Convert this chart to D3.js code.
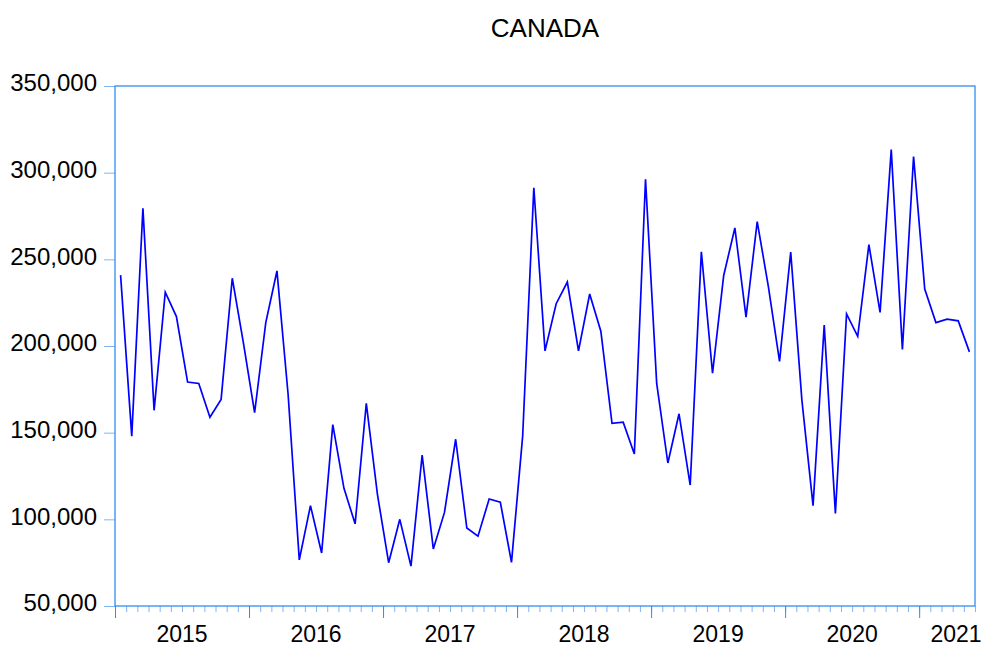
<!DOCTYPE html>
<html lang="en">
<head>
    <meta charset="UTF-8">
    <title>CANADA</title>
    <script src="https://cdn.jsdelivr.net/npm/d3@7/dist/d3.min.js"></script>
    <style>
        body { margin: 0; background: #fff; }
        text { font-family: "Liberation Sans", Arial, sans-serif; fill: #000; }
    </style>
</head>
<body>
    <svg width="988" height="646"></svg>

    <script>
        // monthly values, Jan 2015 .. May 2021
        var values = [
            240900, 148000, 279400, 162900, 231000, 217000, 179200, 178400, 158900, 169200, 239100, 201600,
            161500, 213500, 243300, 172000, 76600, 107900, 80600, 154600, 117900, 97400, 166900, 114300,
            75000, 100000, 73000, 137100, 82900, 104000, 146200, 95000, 90300, 111700, 109900, 75200,
            148000, 291300, 197200, 224400, 236900, 197200, 230000, 208500, 155400, 156000, 137700, 296200,
            178400, 132500, 160900, 119800, 254400, 184300, 240700, 268100, 216700, 271800, 234300, 191100,
            254200, 168800, 107900, 212100, 103400, 218500, 205600, 258500, 219400, 313300, 198000, 309300,
            232900, 213500, 215500, 214500, 196600
        ]
        var years = [2015, 2016, 2017, 2018, 2019, 2020, 2021]
        var yTicks = [50000, 100000, 150000, 200000, 250000, 300000, 350000]

        var svg = d3.select('svg')
        var width = +svg.attr('width')
        // plot box (don't call these top/left: window.top is read-only)
        var plotL = 115, plotR = 975, plotT = 86, plotB = 606
        var axisColor = '#2f8ef0'
        var tickColor = '#7fb6f3'

        // one slot per month, points sit in the middle of the slot
        var x = d3.scaleLinear().domain([0, values.length]).range([plotL, plotR])
        var y = d3.scaleLinear().domain([50000, 350000]).range([plotB, plotT])

        // title
        svg.append('text')
            .attr('x', (plotL + plotR) / 2)
            .attr('y', 37)
            .attr('text-anchor', 'middle')
            .style('font-size', '26px')
            .text('CANADA')

        // y axis
        var gy = svg.append('g')
            .attr('transform', 'translate(' + plotL + ',0)')
            .call(d3.axisLeft(y).tickValues(yTicks).tickSize(11).tickPadding(7).tickFormat(d3.format(',')))
        gy.select('.domain').remove()
        gy.selectAll('.tick line').attr('stroke', tickColor)
        gy.selectAll('.tick text')
            .style('font-size', '24px')
            .attr('dy', '0.2em')
            .attr('fill', '#000')

        // x axis: month ticks and longer year ticks
        var gxMinor = svg.append('g')
            .attr('transform', 'translate(0,' + plotB + ')')
            .call(d3.axisBottom(x).tickValues(d3.range(0, values.length + 1)).tickSize(6).tickFormat(''))
        gxMinor.select('.domain').remove()
        gxMinor.selectAll('.tick line').attr('stroke', tickColor)

        var gxMajor = svg.append('g')
            .attr('transform', 'translate(0,' + plotB + ')')
            .call(d3.axisBottom(x).tickValues(years.map(function(d, i) { return i * 12 })).tickSize(12).tickFormat(''))
        gxMajor.select('.domain').remove()
        gxMajor.selectAll('.tick line').attr('stroke', axisColor)

        // year labels, centred on the year, last one kept inside the page
        svg.append('g').selectAll('text').data(years).enter().append('text')
            .attr('x', function(d, i) {
                var c = x(i * 12 + 6)
                return Math.min(c, width - 6 - 26)
            })
            .attr('y', 642)
            .attr('text-anchor', 'middle')
            .style('font-size', '23px')
            .text(function(d) { return d })

        // frame
        svg.append('rect')
            .attr('x', plotL)
            .attr('y', plotT)
            .attr('width', plotR - plotL)
            .attr('height', plotB - plotT)
            .attr('fill', 'none')
            .attr('stroke', axisColor)
            .attr('stroke-width', 1.3)

        // series
        var line = d3.line()
            .x(function(d, i) { return x(i + 0.5) })
            .y(function(d) { return y(d) })

        svg.append('path')
            .datum(values)
            .attr('d', line)
            .attr('fill', 'none')
            .attr('stroke', '#0000ff')
            .attr('stroke-width', 1.7)
    </script>
</body>
</html>
